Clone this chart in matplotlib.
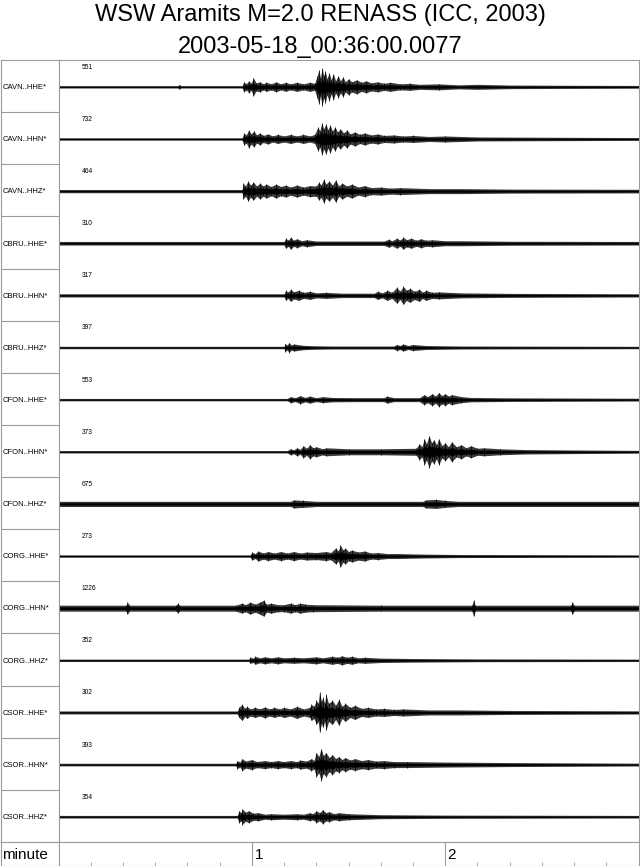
import matplotlib
matplotlib.use('Agg')
import matplotlib.pyplot as plt
import numpy as np

plt.rcParams['font.family'] = ['Liberation Sans', 'DejaVu Sans']

title1 = 'WSW Aramits M=2.0 RENASS (ICC, 2003)'
title2 = '2003-05-18_00:36:00.0077'

channels = ['CAVN..HHE*', 'CAVN..HHN*', 'CAVN..HHZ*',
            'CBRU..HHE*', 'CBRU..HHN*', 'CBRU..HHZ*',
            'CFON..HHE*', 'CFON..HHN*', 'CFON..HHZ*',
            'CORG..HHE*', 'CORG..HHN*', 'CORG..HHZ*',
            'CSOR..HHE*', 'CSOR..HHN*', 'CSOR..HHZ*']
peaks = [551, 732, 464, 310, 317, 397, 553, 373, 675, 273, 1226, 352, 302, 393, 354]

# trace envelopes: (seconds, half amplitude in px of a 52px row)
cavn_hhe = [(0, 5), (0.4, 1.2), (37, 1.2), (37.5, 2.5), (38, 1.2), (57, 1.2), (57.5, 5), (58.3, 3),
            (59, 6), (59.8, 3.5), (60.5, 9), (61.3, 4), (62.5, 5), (63.5, 3), (64.5, 4.5), (66, 3),
            (67.5, 5), (69, 3), (70.5, 4.5), (72, 3), (74, 4.5), (76, 3), (78, 4.5), (79.5, 3.5),
            (80.3, 11), (80.8, 17), (81.3, 9), (81.8, 19), (82.3, 11), (82.8, 16), (83.3, 8), (84, 14),
            (84.6, 7), (85.3, 13), (86, 6), (86.8, 11), (87.5, 6), (88.3, 10), (89, 5), (90, 8), (91, 5),
            (92.5, 7), (94, 4.5), (95.5, 6), (97, 4), (99, 5), (101, 3.5), (103, 4.5), (106, 3),
            (109, 3.5), (112, 2.5), (118, 3), (124, 2), (130, 2.5), (140, 1.8), (155, 1.6), (180, 1.4)]
cavn_hhn = [(0, 2.5), (0.4, 1.2), (57, 1.2), (57.5, 6), (58.3, 4), (59, 9), (59.8, 5), (60.6, 8),
            (61.5, 4), (62.5, 6), (63.5, 3.5), (65, 5), (66.5, 3), (68, 4.5), (70, 3), (72, 4.5), (74, 3),
            (76, 4.5), (78, 3), (79.5, 4.5), (80.5, 12), (81.1, 8), (81.7, 16), (82.3, 10), (83, 15),
            (83.6, 9), (84.3, 14), (85, 8), (85.8, 12), (86.6, 7), (87.5, 10), (88.5, 6), (89.5, 9),
            (90.5, 5), (92, 7), (93.5, 4.5), (95, 6), (97, 4), (99, 5), (101, 3.5), (104, 4), (107, 3),
            (110, 3.5), (115, 2.5), (120, 3), (130, 2), (145, 1.8), (180, 1.4)]
cavn_hhz = [(0, 1.6), (57, 1.6), (57.3, 8), (58, 5), (58.8, 10), (59.6, 6), (60.5, 9), (61.5, 5),
            (62.5, 8), (63.5, 5), (64.5, 7), (66, 4.5), (67.5, 7), (69, 4.5), (70.5, 6), (72, 4),
            (74, 6), (76, 4), (78, 5.5), (80, 5), (80.8, 9), (81.5, 6), (82.3, 12), (83, 7), (84, 10),
            (85, 6), (86, 11), (87, 5), (88, 8), (89.5, 5), (91, 7), (93, 4), (95, 5.5), (97, 3.5),
            (100, 4), (103, 3), (106, 3.5), (115, 2.5), (125, 2.5), (140, 2), (180, 1.8)]
cbru_hhe = [(0, 1.8), (70, 1.8), (70.5, 5), (71.3, 3), (72, 6), (73, 3), (74, 4.5), (75.5, 2.5), (77, 3.5),
            (80, 2.2), (90, 2.2), (101, 2.2), (102.5, 4), (103.5, 2.5), (105, 5), (106, 3), (107, 6),
            (108, 3.5), (109.5, 5), (111, 3), (112.5, 4.5), (114, 3), (116, 3.5), (120, 2.5), (125, 2.5),
            (140, 2), (180, 1.8)]
cbru_hhn = [(0, 1.6), (70, 1.6), (70.5, 5), (71.2, 3), (72, 6), (73, 3.5), (74.5, 5), (76, 3), (78, 4),
            (80, 2.5), (83, 3), (88, 2.2), (98, 2.2), (99, 4), (100.5, 2.5), (102, 5), (103.5, 3), (105, 8),
            (106, 4), (107, 9), (108, 5), (109, 7), (110.5, 4), (112, 6), (113, 3), (114, 5), (116, 3),
            (118, 3.5), (125, 2.5), (140, 2), (180, 1.6)]
cbru_hhz = [(0, 1.2), (70, 1.2), (70.3, 4), (71, 2.5), (71.5, 5), (72.3, 2.5), (73, 3.5), (76, 2.2),
            (79, 1.8), (85, 1.5), (104, 1.5), (105, 3), (106, 2), (107, 3.5), (108.5, 2), (110, 3),
            (114, 2), (125, 1.5), (180, 1.2)]
cfon_hhe = [(0, 1.2), (71, 1.2), (72, 3), (73.5, 2), (75, 4), (76.5, 2.2), (78, 3.5), (80, 2), (82, 3),
            (85, 2.2), (92, 2), (101, 2), (102, 3.5), (104, 2), (112, 2), (113.5, 5), (114.5, 3),
            (116, 6), (117, 3.5), (118, 7), (119, 4), (120, 6), (121, 3.5), (122, 5), (125, 3),
            (128, 2.2), (140, 1.8), (180, 1.4)]
cfon_hhn = [(0, 1.2), (71, 1.2), (72, 3), (73, 2), (74, 4), (75, 2.5), (76, 6), (77, 3.5), (78, 7),
            (79, 4), (80, 5), (82, 3), (83, 4), (90, 3), (100, 3), (111, 3.5), (112, 8), (112.8, 5),
            (113.5, 13), (114.2, 8), (115, 16), (115.8, 9), (116.5, 12), (117.3, 7), (118, 13),
            (119, 6), (120, 9), (121, 5), (122, 10), (123.5, 5), (125, 7), (126.5, 4), (128, 6),
            (130, 3.5), (132, 4), (137, 3), (145, 2.2), (160, 1.8), (180, 1.4)]
cfon_hhz = [(0, 2.6), (72, 2.6), (73, 4), (76, 3.5), (80, 2.6), (113, 2.6), (114, 4), (117, 4.5),
            (120, 3.5), (124, 2.6), (180, 2.6)]
corg_hhe = [(0, 5), (0.4, 1.2), (59.5, 1.2), (60, 4), (61, 2.5), (62, 5), (63.5, 3), (65, 4.5), (67, 3),
            (69, 4.5), (71, 3), (73, 4.5), (75, 3), (77, 4), (80, 3.5), (83, 4.5), (84.5, 3.5), (86, 8),
            (86.8, 5), (87.5, 11), (88.3, 6), (89, 8), (90, 4.5), (91, 6), (93, 4), (95, 5), (97, 3),
            (99, 3.5), (102, 2.5), (105, 2.5), (112, 2), (125, 1.5), (180, 1.2)]
corg_hhn = [(0, 3), (21, 3), (21.4, 6), (22, 3), (36.5, 3), (37, 5), (37.5, 3), (55, 3), (57, 5), (58, 3.5),
            (59.5, 6), (61, 4), (62.5, 6), (63.7, 8), (64.5, 4), (66, 5), (68, 3.5), (70, 3.5), (72, 5),
            (73.5, 3.5), (75, 5), (76.5, 4), (79, 3.5), (100, 3), (128.3, 3), (128.8, 8), (129.3, 3),
            (159, 3), (159.5, 6), (160, 3), (180, 3)]
corg_hhz = [(0, 1.2), (59, 1.2), (59.5, 3), (60.5, 2.2), (61, 4), (62.5, 2.5), (64, 3.5), (66, 2.5),
            (68, 3.5), (70, 2.5), (73, 3), (76, 2.5), (80, 3.5), (82, 2.5), (85, 4), (86.5, 3),
            (88, 4.5), (89.5, 3), (91, 4), (93, 2.5), (95, 3), (100, 2.2), (110, 1.8), (130, 1.4), (180, 1.2)]
csor_hhe = [(0, 1.5), (55.5, 1.5), (56, 5), (57, 8), (57.8, 4), (58.5, 6), (59.5, 3.5), (61, 5), (62.5, 3.5),
            (64, 5.5), (65.5, 3.5), (67, 5), (68.5, 3.5), (70, 5), (72, 3.5), (74, 6), (76, 3.5), (78, 5),
            (78.5, 8), (79.3, 6), (80, 12), (80.6, 9), (81, 20), (81.6, 11), (82, 15), (82.6, 9), (83, 18),
            (83.8, 9), (85, 12), (86, 7), (87, 13), (88, 6), (89, 9), (90.5, 5), (92, 7), (94, 4),
            (96, 5), (98.5, 3.5), (101, 4), (104, 3), (107, 3.5), (115, 2.5), (125, 2.5), (140, 2), (180, 1.6)]
csor_hhn = [(0, 1.3), (55, 1.3), (55.5, 4), (56.3, 2.5), (57, 6), (58, 3.5), (60, 5), (61.5, 3), (64, 4),
            (66, 3), (68, 4), (70, 3), (72, 4), (74, 3), (75, 4.5), (77, 3.5), (78.5, 6), (79.3, 4),
            (80, 12), (80.8, 8), (81.5, 16), (82.2, 9), (83, 12), (84, 7), (85, 10), (86, 6), (87, 8),
            (88, 5), (89, 7), (90.5, 4.5), (92, 6), (94, 4), (96, 5), (98.5, 3.5), (101, 4), (104, 3),
            (108, 3), (120, 2.5), (140, 2), (180, 1.4)]
csor_hhz = [(0, 5), (0.4, 1.3), (55.5, 1.3), (56, 6), (56.7, 4), (57, 8), (58, 4.5), (59, 6), (60.5, 3.5),
            (62, 4), (64, 2.5), (66, 3), (70, 2.5), (74, 3), (76, 2.5), (78, 4), (79, 3), (80, 6),
            (81, 4), (82, 7), (83, 4), (84, 5), (85.5, 3), (87, 4), (90, 3), (95, 2.5), (100, 2),
            (120, 1.6), (180, 1.3)]

traces = [cavn_hhe, cavn_hhn, cavn_hhz, cbru_hhe, cbru_hhn, cbru_hhz,
          cfon_hhe, cfon_hhn, cfon_hhz, corg_hhe, corg_hhn, corg_hhz,
          csor_hhe, csor_hhn, csor_hhz]

minute_labels = ['1', '2']

W, H = 640, 866
fig = plt.figure(figsize=(W / 100, H / 100), dpi=100)


def px_axes(x0, y0, x1, y1):
    return fig.add_axes([x0 / W, 1 - y1 / H, (x1 - x0) / W, (y1 - y0) / H])


grey = '#9c9c9c'
n = len(channels)
row_px = 52.13

fig.text(0.5, 1 - 15 / H, title1, ha='center', va='center', fontsize=17)
fig.text(0.5, 1 - 47 / H, title2, ha='center', va='center', fontsize=17)

ax_lab = px_axes(0.5, 60, 58.5, 842)
ax = px_axes(58.5, 60, 638.5, 842)
ax_unit = px_axes(0.5, 842, 58.5, 865.5)
ax_time = px_axes(58.5, 842, 638.5, 865.5)

for a in (ax_lab, ax, ax_unit, ax_time):
    for s in a.spines.values():
        s.set_color(grey)
        s.set_linewidth(0.8)
    a.set_yticks([])

# label column
ax_lab.set_xlim(0, 1)
ax_lab.set_ylim(n, 0)
ax_lab.set_xticks([])
for i in range(1, n):
    ax_lab.axhline(i, color=grey, lw=0.8)
for i, name in enumerate(channels):
    ax_lab.text(0.04, i + 0.53, name, fontsize=5.5, va='center', ha='left')

# traces: dark outer envelope, black core, and a stroke at each read peak
ax.set_xlim(0, 180)
ax.set_ylim(n, 0)
ax.set_xticks([])
for i, tr in enumerate(traces):
    t = np.array([p[0] for p in tr])
    a_px = np.array([p[1] for p in tr])
    amp = a_px / row_px
    base = i + 0.515
    ax.fill_between(t, base - amp, base + amp, color='#3a3a3a', lw=0)
    ax.fill_between(t, base - 0.45 * amp, base + 0.45 * amp, color='#000000', lw=0)
    big = a_px > 2.6
    ax.vlines(t[big], base - amp[big], base + amp[big], color='#000000', lw=0.5)
    ax.text(7.1, i + 0.14, str(peaks[i]), fontsize=4.8, va='center', ha='left')

# time axis
ax_unit.set_xticks([])
ax_unit.text(0.03, 0.45, 'minute', fontsize=11, va='center', ha='left', transform=ax_unit.transAxes)

ax_time.set_xlim(0, 180)
ax_time.set_ylim(0, 1)
minor = [s for s in range(10, 180, 10) if s % 60 != 0]
ax_time.set_xticks(minor)
ax_time.set_xticklabels([])
ax_time.tick_params(axis='x', direction='in', length=3, width=0.6, color=grey, pad=0)
for k, lab in enumerate(minute_labels):
    sec = 60 * (k + 1)
    ax_time.axvline(sec, color=grey, lw=0.8)
    ax_time.text(sec + 0.8, 0.45, lab, fontsize=11, va='center', ha='left')

fig.savefig('out.png', dpi=100)
